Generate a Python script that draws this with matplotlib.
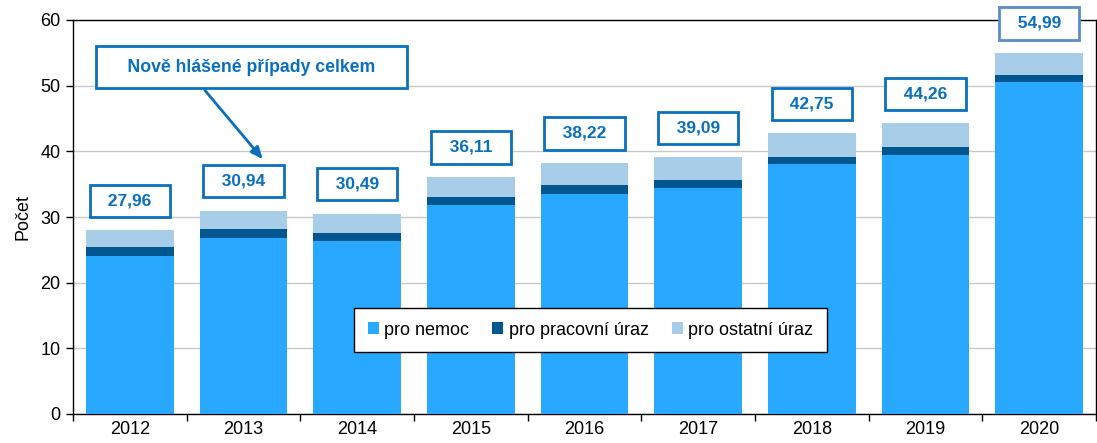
import matplotlib
matplotlib.use("Agg")
import matplotlib.pyplot as plt
import numpy as np

years = ["2012", "2013", "2014", "2015", "2016", "2017", "2018", "2019", "2020"]
nemoc = [24.10, 26.85, 26.30, 31.80, 33.50, 34.40, 38.00, 39.45, 50.50]
pracovni = [1.30, 1.30, 1.30, 1.20, 1.30, 1.20, 1.20, 1.15, 1.10]
totals = [27.96, 30.94, 30.49, 36.11, 38.22, 39.09, 42.75, 44.26, 54.99]
ostatni = [t - a - b for t, a, b in zip(totals, nemoc, pracovni)]
total_labels = ["27,96", "30,94", "30,49", "36,11", "38,22", "39,09", "42,75", "44,26", "54,99"]
series_names = ["pro nemoc", "pro pracovní úraz", "pro ostatní úraz"]

c_nemoc = "#29A8FF"
c_prac = "#00568F"
c_ost = "#A8CDE8"
c_box = "#0A70BE"

plt.rcParams['font.family'] = ['Liberation Sans', 'DejaVu Sans']
fs = 13

fig = plt.figure(figsize=(10.97, 4.43), dpi=100)
ax = fig.add_axes([73/1097, 1-414/443, 1-73/1097 - 0.001, (414-20)/443])

x = np.arange(len(years))
w = 0.77
ax.bar(x, nemoc, w, color=c_nemoc, label=series_names[0], zorder=3)
ax.bar(x, pracovni, w, bottom=nemoc, color=c_prac, label=series_names[1], zorder=3)
bot2 = [a + b for a, b in zip(nemoc, pracovni)]
ax.bar(x, ostatni, w, bottom=bot2, color=c_ost, label=series_names[2], zorder=3)

ax.set_xlim(-0.5, len(years) - 0.5)
ax.set_ylim(0, 60)
ax.set_yticks(range(0, 61, 10))
ax.yaxis.grid(True, color="#C8C8C8", linewidth=1, zorder=0)
ax.set_axisbelow(True)
ax.set_xticks(x)
ax.set_xticklabels(years, fontsize=fs)
ax.set_xticks(np.arange(-0.5, len(years), 1), minor=True)
ax.tick_params(axis='x', which='major', length=0, pad=5)
ax.tick_params(axis='x', which='minor', length=5, width=1, direction='out')
ax.tick_params(axis='y', labelsize=fs, length=5, width=1, direction='out', pad=4)
for s in ax.spines.values():
    s.set_color("black")
    s.set_linewidth(1)
ax.set_ylabel("Počet", fontsize=fs, labelpad=6)

for i, (t, lab) in enumerate(zip(totals, total_labels)):
    ec = "#5B8CC8" if i == len(years) - 1 else c_box
    ax.text(i, t + 4.5, "  " + lab + "  ", ha='center', va='center', fontsize=12.5,
            fontweight='bold', color=c_box, zorder=5,
            bbox=dict(boxstyle='square,pad=0.5', fc='white', ec=ec, lw=2))

ax.text(1.07, 52.8, "    Nově hlášené případy celkem    ", ha='center', va='center',
        fontsize=12.7, fontweight='bold', color=c_box, zorder=6,
        bbox=dict(boxstyle='square,pad=0.7', fc='white', ec=c_box, lw=2))
ax.annotate("", xy=(1.17, 38.8), xytext=(0.66, 49.3),
            arrowprops=dict(arrowstyle='-|>,head_width=0.3,head_length=0.7', color=c_box, lw=2,
                            shrinkA=0, shrinkB=0),
            zorder=6)

leg = ax.legend(loc='center', bbox_to_anchor=(0.506, 0.213), ncol=3, fontsize=fs,
                frameon=True, fancybox=False, edgecolor='black', framealpha=1,
                handlelength=0.6, handleheight=0.6, handletextpad=0.3,
                columnspacing=1.3, borderpad=0.75)
leg.get_frame().set_linewidth(1)
leg.set_zorder(7)

fig.savefig("out.png", dpi=100)
